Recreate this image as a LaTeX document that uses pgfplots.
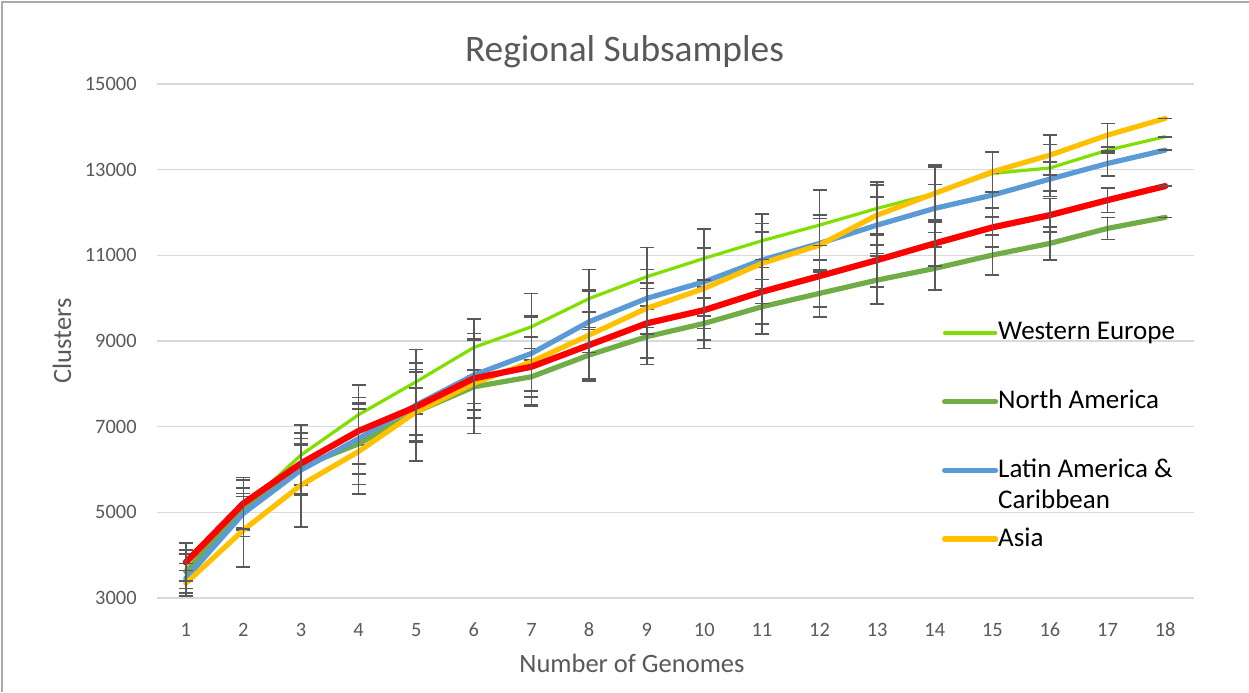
\documentclass[border=0pt]{standalone}
\usepackage{fontspec}
\setmainfont{Carlito}
\usepackage{pgfplots}
\pgfplotsset{compat=1.18}
\definecolor{txtgray}{HTML}{595959}
\definecolor{gridgray}{HTML}{D9D9D9}
\definecolor{errgray}{HTML}{595959}
\definecolor{framegray}{HTML}{AAAAAA}
\definecolor{weGreen}{HTML}{7FE000}
\definecolor{naGreen}{HTML}{70AD47}
\definecolor{laBlue}{HTML}{5B9BD5}
\definecolor{asiaGold}{HTML}{FFC000}
\definecolor{afRed}{HTML}{FF0000}
\pgfplotsset{errstyle/.style={
  /pgfplots/error bars/y dir=both,
  /pgfplots/error bars/y explicit,
  /pgfplots/error bars/error bar style={line width=0.85pt, errgray, solid},
  /pgfplots/error bars/error mark options={rotate=90, mark size=3.5pt, line width=0.85pt, errgray, solid}}}
\pgfplotstableread{
x y e
1 3620 400
2 5100 470
3 6338 700
4 7280 700
5 8049 755
6 8850 661
7 9333 778
8 9990 677
9 10500 685
10 10930 677
11 11340 622
12 11706 817
13 12096 622
14 12446 622
15 12912 506
16 13040 545
17 13456 62
18 13770 0
}\tblWE
\pgfplotstableread{
x y e
1 3614 506
2 5093 660
3 6066 661
4 6600 950
5 7348 550
6 7930 389
7 8165 661
8 8672 599
9 9100 646
10 9412 584
11 9799 638
12 10112 545
13 10422 560
14 10695 506
15 11006 467
16 11279 389
17 11629 257
18 11886 0
}\tblNA
\pgfplotstableread{
x y e
1 3459 350
2 4977 390
3 5988 584
4 6720 817
5 7505 832
6 8205 817
7 8710 871
8 9449 716
9 9995 677
10 10383 801
11 10889 661
12 11279 661
13 11706 661
14 12096 560
15 12406 506
16 12780 405
17 13145 296
18 13456 0
}\tblLA
\pgfplotstableread{
x y e
1 3343 296
2 4587 855
3 5637 973
4 6420 996
5 7348 1144
6 8011 1167
7 8516 1035
8 9138 1050
9 9762 599
10 10228 934
11 10812 934
12 11239 622
13 11939 700
14 12446 661
15 12950 467
16 13340 467
17 13807 272
18 14196 0
}\tblAsia
\pgfplotstableread{
x y e
1 3833 443
2 5210 600
3 6144 716
4 6900 778
5 7465 817
6 8128 918
7 8399 700
8 8905 778
9 9412 817
10 9722 700
11 10149 755
12 10515 716
13 10889 622
14 11279 529
15 11652 451
16 11939 389
17 12289 288
18 12616 0
}\tblRed
\begin{document}
\begin{tikzpicture}
\useasboundingbox (-78.5pt,-47pt) rectangle (546pt,299pt);
\draw[framegray, line width=0.75pt] (-77.5pt,-47pt) -- (-77.5pt,298pt) -- (546pt,298pt);
\begin{axis}[
  at={(0pt,0pt)}, anchor=south west,
  scale only axis, width=518.5pt, height=257pt,
  xmin=0.5, xmax=18.5, ymin=3000, ymax=15000,
  xtick={1,...,18}, ytick={3000,5000,...,15000},
  scaled y ticks=false,
  /pgf/number format/assume math mode=true,
  /pgf/number format/1000 sep={},
  axis line style={draw=none},
  major tick length=0pt,
  ymajorgrids, major grid style={gridgray, line width=0.75pt},
  xticklabel style={anchor=center, yshift=-16pt, inner sep=0pt, font=\fontsize{10.2}{12}\selectfont, text=txtgray},
  yticklabel style={anchor=east, xshift=-10pt, inner sep=0pt, font=\fontsize{10.2}{12}\selectfont, text=txtgray},
  xlabel={Number of Genomes},
  ylabel={Clusters},
  xlabel style={at={(axis description cs:0.458,-0.144)}, anchor=base, inner sep=0pt, font=\fontsize{13.25}{16}\selectfont, text=txtgray},
  ylabel style={at={(axis description cs:-0.0916,0.5)}, anchor=center, inner sep=0pt, font=\fontsize{13.25}{16}\selectfont, text=txtgray},
  title={Regional Subsamples},
  title style={at={(axis description cs:0.4508,1.0195)}, anchor=base, inner sep=0pt, font=\fontsize{18.7}{22}\selectfont, text=txtgray},
  legend style={at={(axis description cs:0.757,0.537)}, anchor=north west, draw=none, fill=none, inner sep=0pt, outer sep=0pt, row sep=25.35pt, column sep=0pt, font=\fontsize{13.5}{15.6}\selectfont, text=black, nodes={inner sep=0pt, text height=9pt, text depth=0pt, anchor=base west}},
  legend cell align=left,
  legend image code/.code={\draw[#1] (0pt,3.5pt) -- (25.5pt,3.5pt);},
  every axis plot/.append style={line join=round, line cap=round},
]
\addplot[color=weGreen, line width=1.6pt, errstyle] table[x=x, y=y, y error=e] {\tblWE};
\addlegendentry{Western Europe}
\addplot[color=naGreen, line width=2.6pt, errstyle] table[x=x, y=y, y error=e] {\tblNA};
\addlegendentry{North America}
\addplot[color=laBlue, line width=2.6pt, errstyle] table[x=x, y=y, y error=e] {\tblLA};
\addlegendentry{\begin{tabular}[t]{@{}l@{}}Latin America \&\\Caribbean\end{tabular}}
\addplot[color=asiaGold, line width=2.6pt, errstyle] table[x=x, y=y, y error=e] {\tblAsia};
\addlegendentry{Asia}
\addplot[color=afRed, line width=3.1pt, errstyle, forget plot] table[x=x, y=y, y error=e] {\tblRed};
\end{axis}
\end{tikzpicture}
\end{document}
